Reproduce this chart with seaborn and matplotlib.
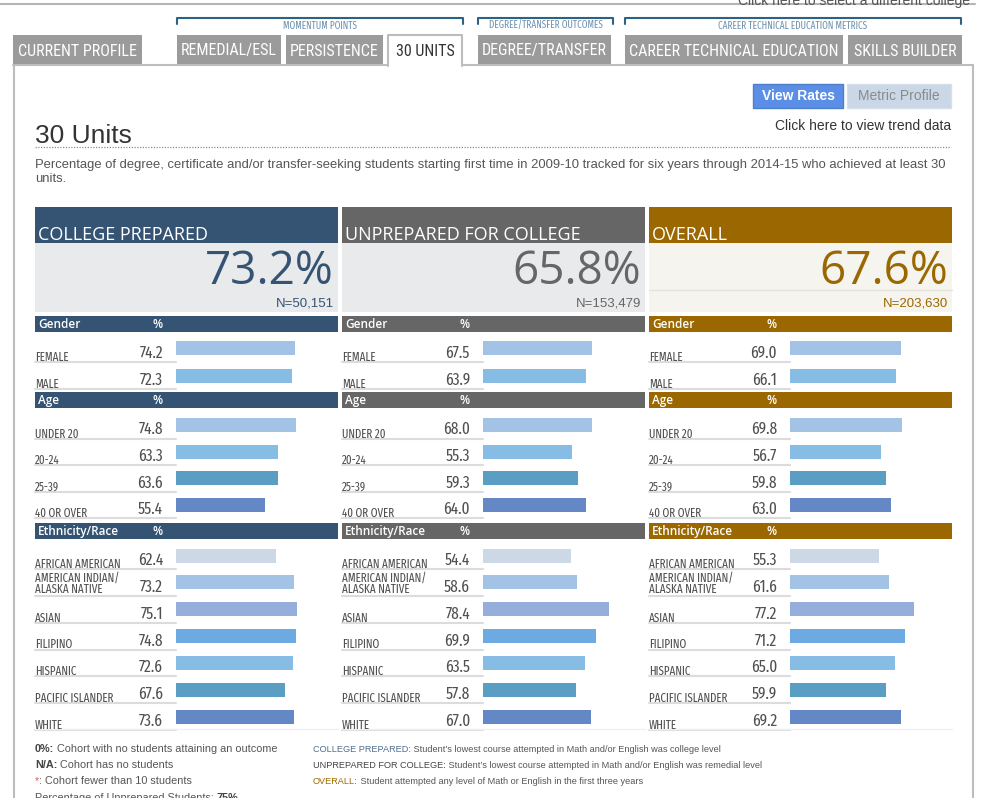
import numpy as np
import pandas as pd
import matplotlib
matplotlib.use('Agg')
import matplotlib.pyplot as plt
import matplotlib.patches as mpatches
import matplotlib.transforms as mtransforms
import seaborn as sns

# ---- data ----
panel_names = ['COLLEGE PREPARED', 'UNPREPARED FOR COLLEGE', 'OVERALL']
overall_rates = [73.2, 65.8, 67.6]
cohort_sizes = [50151, 153479, 203630]

gender_labels = ['FEMALE', 'MALE']
age_labels = ['UNDER 20', '20-24', '25-39', '40 OR OVER']
eth_labels = ['AFRICAN AMERICAN', 'AMERICAN INDIAN/\nALASKA NATIVE', 'ASIAN', 'FILIPINO',
              'HISPANIC', 'PACIFIC ISLANDER', 'WHITE']

prepared_gender = [74.2, 72.3]
prepared_age = [74.8, 63.3, 63.6, 55.4]
prepared_eth = [62.4, 73.2, 75.1, 74.8, 72.6, 67.6, 73.6]

unprepared_gender = [67.5, 63.9]
unprepared_age = [68.0, 55.3, 59.3, 64.0]
unprepared_eth = [54.4, 58.6, 78.4, 69.9, 63.5, 57.8, 67.0]

overall_gender = [69.0, 66.1]
overall_age = [69.8, 56.7, 59.8, 63.0]
overall_eth = [55.3, 61.6, 77.2, 71.2, 65.0, 59.9, 69.2]

tab_names = ['CURRENT PROFILE', 'REMEDIAL/ESL', 'PERSISTENCE', '30 UNITS',
             'DEGREE/TRANSFER', 'CAREER TECHNICAL EDUCATION', 'SKILLS BUILDER']

# ---- styling ----
panel_colors = ['#355372', '#666666', '#9b6700']
box_colors = ['#e9eaec', '#e9eaec', '#f5f4ef']
gender_colors = ['#a3c3e6', '#87bce5']
age_colors = ['#a3c3e6', '#87bce5', '#5b9ec4', '#6488c6']
eth_colors = ['#cdd8e6', '#a3c3e6', '#95aedb', '#6eaae2', '#87bce5', '#5b9ec4', '#6488c6']

sns.set_style('white')
plt.rcParams['font.family'] = ['Liberation Sans', 'DejaVu Sans']
OPEN = ['Open Sans', 'DejaVu Sans']
COND = ['Fira Sans Extra Condensed', 'Roboto Condensed', 'DejaVu Sans']
TABF = ['Roboto Condensed', 'DejaVu Sans']

W, H = 992, 798
fig = plt.figure(figsize=(W / 100, H / 100), dpi=100)
bg = fig.add_axes([0, 0, 1, 1])
bg.set_xlim(0, W)
bg.set_ylim(H, 0)
bg.axis('off')


def rect(x0, y0, x1, y1, **kw):
    bg.add_patch(mpatches.Rectangle((x0, y0), x1 - x0, y1 - y0, **kw))


def ctext(x, y, s, size, **kw):
    # condensed face used for the row labels and numbers
    return bg.text(x, y, s, fontsize=size, family=COND, fontweight='normal', **kw)


def rich(x, y, parts, size):
    t = bg.text(x, y, parts[0][0], color=parts[0][1], fontweight=parts[0][2],
                fontsize=size, va='baseline')
    for s, c, w in parts[1:]:
        t = bg.annotate(s, xy=(1, 0), xycoords=t, va='bottom', ha='left',
                        color=c, fontweight=w, fontsize=size)


# top strip
bg.plot([0, 975], [4, 4], color='#b5b5b5', lw=1.5)
bg.text(970, 5, 'Click here to select a different college', ha='right', va='baseline',
        fontsize=10, color='#555555')

# group brackets
for x0, x1, lab in [(177, 463, 'MOMENTUM POINTS'), (478, 613, 'DEGREE/TRANSFER OUTCOMES'),
                    (625, 961, 'CAREER TECHNICAL EDUCATION METRICS')]:
    bg.plot([x0, x0, x1, x1], [24, 18, 18, 24], color='#2e6183', lw=1.5)
    ctext((x0 + x1) / 2, 25.5, lab, 7.2, ha='center', va='center', color='#6f93b0')

# tabs
tab_pos = [(13, 142), (177, 281), (286, 383), (388, 462), (478, 611), (625, 843), (848, 962)]
for name, (x0, x1) in zip(tab_names, tab_pos):
    if name == '30 UNITS':
        rect(x0, 35, x1, 66, fc='white', ec='none', zorder=3)
        bg.plot([x0, x0, x1, x1], [66, 35, 35, 66], color='#bdbdbd', lw=1.5, zorder=4)
        bg.text((x0 + x1) / 2, 51, name, ha='center', va='center', fontsize=11.5,
                color='#333333', family=TABF, zorder=5)
    else:
        rect(x0, 35, x1, 65, fc='#9b9b9b', ec='none')
        bg.text((x0 + x1) / 2, 51, name, ha='center', va='center', fontsize=11.5,
                color='white', family=TABF)

# content box
bg.plot([13.5, 13.5], [65, H], color='#bdbdbd', lw=1.5)
bg.plot([973, 973], [65, H], color='#bdbdbd', lw=1.5)
bg.plot([13, 388], [65, 65], color='#bdbdbd', lw=1.5)
bg.plot([462, 973], [65, 65], color='#bdbdbd', lw=1.5)

# buttons
rect(753, 84, 843, 108, fc='#5b8ee6', ec='#4d80c8', lw=1)
bg.text(798, 96.5, 'View Rates', ha='center', va='center', fontsize=10, color='white',
        fontweight='bold')
rect(847, 84, 951, 108, fc='#c9d7e6', ec='#d6e0ea', lw=1)
bg.text(899, 96.5, 'Metric Profile', ha='center', va='center', fontsize=10, color='#8a8a8a')
bg.text(951, 126, 'Click here to view trend data', ha='right', va='center', fontsize=10,
        color='#333333')

# title + description
bg.text(35, 143, '30 Units', ha='left', va='baseline', fontsize=19, color='#333333')
bg.plot([35, 951], [146.5, 146.5], color='#8c8c8c', lw=0.9, ls=(0, (1, 1.2)))
bg.text(35, 168, 'Percentage of degree, certificate and/or transfer-seeking students starting '
        'first time in 2009-10 tracked for six years through 2014-15 who achieved at least 30',
        fontsize=9.35, color='#555555', va='baseline')
bg.text(35, 182, 'units.', fontsize=9.35, color='#555555', va='baseline')

# ---- three panels ----
panel_x = [35, 342, 649]
panel_w = 303
panel_groups = [
    (prepared_gender, prepared_age, prepared_eth),
    (unprepared_gender, unprepared_age, unprepared_eth),
    (overall_gender, overall_age, overall_eth),
]
section_titles = [('Gender', 316), ('Age', 392), ('Ethnicity/Race', 523)]
group_rows = [(gender_labels, gender_colors, 348.5, 376.0),
              (age_labels, age_colors, 425.0, 504.5),
              (eth_labels, eth_colors, 555.5, 716.5)]

for p in range(3):
    x = panel_x[p]
    col = panel_colors[p]
    rect(x, 207, x + panel_w, 243, fc=col, ec='none')
    bg.text(x + 3, 240, panel_names[p], va='baseline', fontsize=13, color='white', family=OPEN)
    rect(x, 243, x + panel_w, 312, fc=box_colors[p], ec='none')
    if p == 2:
        bg.plot([x, x + panel_w], [290, 290], color='#e6e3db', lw=1)
    bg.text(x + 299, 284, f'{overall_rates[p]:.1f}%', ha='right', va='baseline',
            fontsize=33, color=col, family=OPEN)
    bg.text(x + 299, 306, f'N={cohort_sizes[p]:,}', ha='right', va='baseline',
            fontsize=9.5, color=col)

    for title, y0 in section_titles:
        rect(x, y0, x + panel_w, y0 + 16, fc=col, ec='none')
        bg.text(x + 3, y0 + 8.5, title, va='center', fontsize=8.5, color='white',
                fontweight='semibold', family=OPEN)
        bg.text(x + 123, y0 + 8.5, '%', ha='center', va='center', fontsize=8.5,
                color='white', fontweight='semibold', family=OPEN)

    bar_x0 = x + 141
    for vals, (labels, colors, first_c, last_c) in zip(panel_groups[p], group_rows):
        n = len(labels)
        sp = (last_c - first_c) / (n - 1)
        top = first_c - sp / 2
        bottom = last_c + sp / 2
        ax = fig.add_axes([bar_x0 / W, 1 - bottom / H, 161 / W, (bottom - top) / H])
        df = pd.DataFrame({'label': labels, 'value': vals})
        sns.barplot(data=df, x='value', y='label', hue='label', palette=colors,
                    legend=False, orient='h', width=14 / sp, saturation=1,
                    linewidth=0, ax=ax)
        ax.set_xlim(0, 100)
        ax.set_ylim(n - 0.5, -0.5)
        ax.axis('off')

        trans = mtransforms.blended_transform_factory(bg.transData, ax.transData)
        for i, (lab, v) in enumerate(zip(labels, vals)):
            parts = lab.split('\n')
            if len(parts) == 1:
                ctext(x, i + 12.5 / sp, lab, 8.6, transform=trans, va='baseline',
                      color='#505050')
            else:
                ctext(x, i - 1.0 / sp, parts[0], 8.6, transform=trans, va='baseline',
                      color='#505050')
                ctext(x, i + 10.5 / sp, parts[1], 8.6, transform=trans, va='baseline',
                      color='#505050')
            ctext(x + 128, i + 9.5 / sp, f'{v:.1f}', 12, transform=trans, ha='right',
                  va='baseline', color='#505050')
            bg.plot([x, bar_x0], [i + 13.5 / sp] * 2, transform=trans,
                    color='#dcdcdc', lw=1.5)

    bg.plot([x, x + panel_w], [729, 729], color='#f0f0f0', lw=1)

# ---- footnotes ----
fl, fr = 7.8, 6.6
rich(35, 752, [('0%:', '#444444', 'bold'), (' Cohort with no students attaining an outcome', '#555555', 'normal')], fl)
rich(35, 768, [('N/A:', '#444444', 'bold'), (' Cohort has no students', '#555555', 'normal')], fl)
rich(35, 784, [('*', '#e05a5a', 'normal'), (': Cohort fewer than 10 students', '#555555', 'normal')], fl)
rich(35, 801, [('Percentage of Unprepared Students: ', '#555555', 'normal'), ('75%', '#444444', 'bold')], fl)

rich(313, 752, [('COLLEGE PREPARED:', '#4f6f8f', 'normal'),
                (" Student\u2019s lowest course attempted in Math and/or English was college level", '#555555', 'normal')], fr)
rich(313, 768, [('UNPREPARED FOR COLLEGE:', '#444444', 'normal'),
                (" Student\u2019s lowest course attempted in Math and/or English was remedial level", '#555555', 'normal')], fr)
rich(313, 784, [('OVERALL:', '#a06a00', 'normal'),
                (' Student attempted any level of Math or English in the first three years', '#555555', 'normal')], fr)

fig.savefig('out.png', dpi=100)
